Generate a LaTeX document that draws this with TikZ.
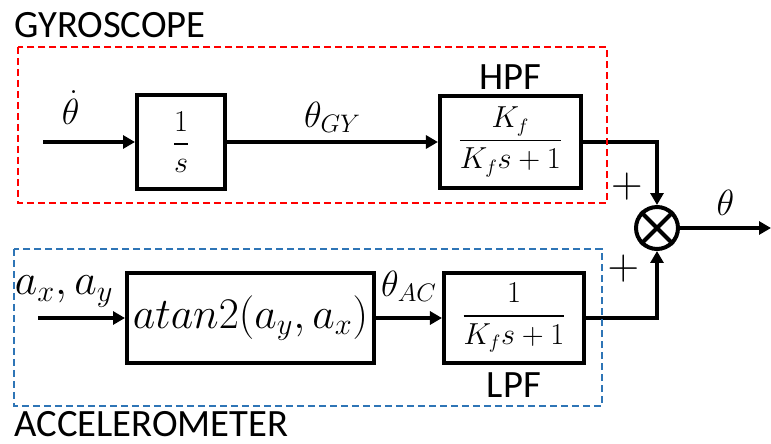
\documentclass[tikz,border=0pt]{standalone}
\usepackage{amsmath}
\usepackage[no-math]{fontspec}
\setmainfont{Carlito}
\usetikzlibrary{arrows.meta, positioning}
\definecolor{gyrored}{RGB}{255,0,0}
\definecolor{accblue}{RGB}{46,117,182}
\tikzset{
    block/.style={
        draw,
        line width=0.08cm,
        align=center,
        font=\fontsize{16}{19}\selectfont
    },
    sumnode/.style={draw, circle, line width=0.08cm, minimum size=0.84cm, inner sep=0pt},
    line/.style={-{Triangle[length=0.24cm, width=0.26cm]}, line width=0.08cm},
    group/.style={line width=0.055cm, dash pattern=on 0.14cm off 0.08cm},
    grouplabel/.style={font=\fontsize{22}{26}\selectfont, inner sep=0pt, anchor=base west},
    tag/.style={font=\fontsize{22}{26}\selectfont, inner sep=1pt},
    siglabel/.style={font=\fontsize{22}{26}\selectfont, inner sep=2pt},
    plus/.style={font=\fontsize{24}{28}\selectfont, inner sep=0pt}
}

\begin{document}
\begin{tikzpicture}[x=0.02cm, y=-0.02cm]
\useasboundingbox (0,0) rectangle (771,443);

% gyroscope path
\node[block, minimum width=1.76cm, minimum height=1.88cm] (integ) at (181,142) {$\dfrac{1}{s}$};
\node[block, right=4.22cm of integ, minimum width=2.82cm, minimum height=1.86cm] (hpf) {$\dfrac{K_f}{K_f s+1}$};
\node[tag, above=1pt of hpf] (hpflbl) {HPF};
\coordinate (gin) at (43,142);

% accelerometer path
\node[block, minimum width=4.74cm, minimum height=1.82cm, font=\fontsize{23}{27}\selectfont] (atan) at (250.5,318) {$atan2(a_y,a_x)$};
\node[block, right=1.32cm of atan, minimum width=2.8cm, minimum height=1.82cm] (lpf) {$\dfrac{1}{K_f s+1}$};
\node[tag, below=0.1cm of lpf] (lpflbl) {LPF};
\coordinate (ain) at (38,318);

% summing junction
\node[sumnode] (sum) at (657,228) {};
\draw[line width=0.08cm] (sum.north west) -- (sum.south east);
\draw[line width=0.08cm] (sum.north east) -- (sum.south west);
\coordinate (out) at (771,228);

\draw[line] (gin) -- node[siglabel, pos=0.3, above=7pt] {$\dot{\theta}$} (integ);
\draw[line] (integ) -- node[siglabel, above=2pt] {$\theta_{GY}$} (hpf);
\draw[line] (ain) -- node[siglabel, pos=0.3, above=3pt, font=\fontsize{24}{28}\selectfont] {$a_x,a_y$} (atan);
\draw[line] (atan) -- node[siglabel, above=6pt] {$\theta_{AC}$} (lpf);
\draw[line] (hpf.east) -| node[plus, pos=0.85, left=7pt] {$+$} (sum.north);
\draw[line] (lpf.east) -| node[plus, pos=0.87, left=9pt] {$+$} (sum.south);
\draw[line] (sum) -- node[siglabel, above=4pt] {$\theta$} (out);

% sensor groups
\draw[group, gyrored] (18,47) rectangle (607,203);
\node[grouplabel] (gyrolbl) at (14,37) {GYROSCOPE};
\draw[group, accblue] (14,249) rectangle (602,406);
\node[grouplabel] (acclbl) at (14,436) {ACCELEROMETER};
\end{tikzpicture}
\end{document}
